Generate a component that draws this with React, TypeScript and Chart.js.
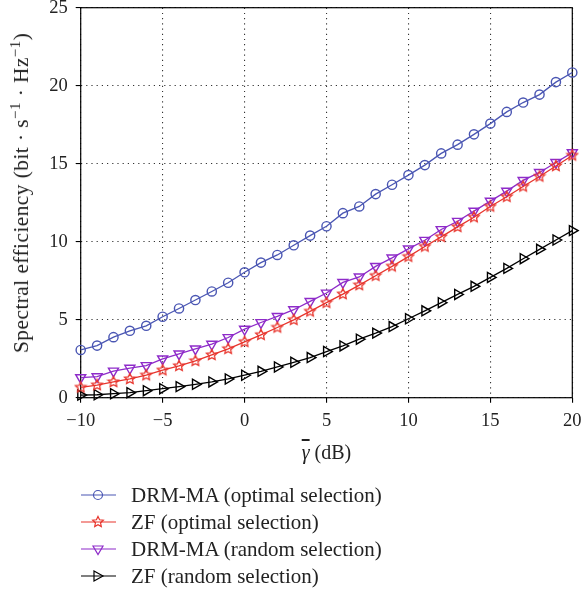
import React, { useEffect, useRef } from "react";
import { Chart, registerables } from "chart.js";

Chart.register(...registerables);

const snrDb = [-10, -9, -8, -7, -6, -5, -4, -3, -2, -1, 0, 1, 2, 3, 4, 5, 6, 7, 8, 9, 10, 11, 12, 13, 14, 15, 16, 17, 18, 19, 20];

const drmOptimal = [3.06, 3.34, 3.88, 4.29, 4.61, 5.19, 5.72, 6.26, 6.81, 7.37, 8.04, 8.66, 9.15, 9.77, 10.39, 10.99, 11.83, 12.26, 13.05, 13.65, 14.27, 14.91, 15.66, 16.22, 16.88, 17.57, 18.32, 18.92, 19.43, 20.23, 20.85];
const zfOptimal = [0.66, 0.81, 1.01, 1.2, 1.44, 1.76, 2.04, 2.36, 2.74, 3.13, 3.58, 4.03, 4.5, 4.99, 5.53, 6.09, 6.64, 7.22, 7.82, 8.42, 9.04, 9.69, 10.31, 10.95, 11.57, 12.26, 12.88, 13.54, 14.18, 14.85, 15.53];
const drmRandom = [1.29, 1.35, 1.71, 1.89, 2.06, 2.49, 2.81, 3.13, 3.43, 3.86, 4.39, 4.82, 5.21, 5.64, 6.17, 6.71, 7.39, 7.74, 8.42, 8.96, 9.54, 10.09, 10.78, 11.31, 11.96, 12.6, 13.24, 13.93, 14.44, 15.08, 15.71];
const zfRandom = [0.17, 0.19, 0.26, 0.32, 0.45, 0.58, 0.71, 0.86, 1.01, 1.2, 1.44, 1.69, 1.97, 2.27, 2.57, 2.96, 3.32, 3.75, 4.14, 4.56, 5.06, 5.57, 6.09, 6.62, 7.14, 7.71, 8.29, 8.91, 9.51, 10.11, 10.71];

const seriesNames = ["DRM-MA (optimal selection)", "ZF (optimal selection)", "DRM-MA (random selection)", "ZF (random selection)"];
const seriesColors = ["#4a56b3", "#e8342c", "#8e2bc9", "#000000"];

const xTicks = [-10, -5, 0, 5, 10, 15, 20];
const yTicks = [0, 5, 10, 15, 20, 25];

const SERIF = "'Liberation Serif', 'DejaVu Serif', serif";

function makeStar(color: string): HTMLCanvasElement {
  const c = document.createElement("canvas");
  c.width = 14;
  c.height = 14;
  const g = c.getContext("2d")!;
  g.strokeStyle = color;
  g.lineWidth = 1.3;
  g.beginPath();
  for (let i = 0; i < 10; i++) {
    const r = i % 2 === 0 ? 5.6 : 2.7;
    const a = -Math.PI / 2 + (i * Math.PI) / 5;
    const px = 7 + r * Math.cos(a);
    const py = 7 + r * Math.sin(a);
    if (i === 0) g.moveTo(px, py);
    else g.lineTo(px, py);
  }
  g.closePath();
  g.stroke();
  return c;
}

const framePlugin = {
  id: "frame",
  beforeDatasetsDraw(chart: any) {
    const { ctx, chartArea } = chart;
    ctx.save();
    ctx.strokeStyle = "#000";
    ctx.lineWidth = 1.2;
    ctx.setLineDash([]);
    ctx.strokeRect(chartArea.left, chartArea.top, chartArea.right - chartArea.left, chartArea.bottom - chartArea.top);
    ctx.restore();
  },
};

function LegendMarker({ idx }: { idx: number }) {
  const col = seriesColors[idx];
  let shape: React.ReactNode = null;
  if (idx === 0) shape = <circle cx={17} cy={8} r={4.5} fill="none" stroke={col} strokeWidth={1.2} />;
  if (idx === 1) {
    const pts: string[] = [];
    for (let i = 0; i < 10; i++) {
      const r = i % 2 === 0 ? 5.6 : 2.7;
      const a = -Math.PI / 2 + (i * Math.PI) / 5;
      pts.push(`${17 + r * Math.cos(a)},${8 + r * Math.sin(a)}`);
    }
    shape = <polygon points={pts.join(" ")} fill="none" stroke={col} strokeWidth={1.2} />;
  }
  if (idx === 2) shape = <polygon points="12,5 22,5 17,13.5" fill="none" stroke={col} strokeWidth={1.2} />;
  if (idx === 3) shape = <polygon points="13,3 22,8 13,13" fill="none" stroke={col} strokeWidth={1.2} />;
  return (
    <svg width={35} height={16} style={{ position: "absolute", left: 81, top: -8 }}>
      <line x1={0} y1={8} x2={35} y2={8} stroke={col} strokeWidth={1.2} />
      {shape}
    </svg>
  );
}

export default function App() {
  const ref = useRef<HTMLCanvasElement>(null);
  useEffect(() => {
    const star = makeStar(seriesColors[1]);
    const dataSets = [drmOptimal, zfOptimal, drmRandom, zfRandom];
    const styles: any[] = ["circle", star, "triangle", "triangle"];
    const rots = [0, 0, 180, 90];
    const radii = [4.6, 6, 5.8, 5.8];
    const chart = new Chart(ref.current!, {
      type: "line",
      data: {
        datasets: dataSets.map((vals, i) => ({
          label: seriesNames[i],
          data: snrDb.map((x, j) => ({ x, y: vals[j] })),
          borderColor: seriesColors[i],
          backgroundColor: "transparent",
          borderWidth: 1.3,
          pointStyle: styles[i],
          pointRotation: rots[i],
          pointRadius: radii[i],
          pointBorderWidth: 1.4,
          pointBorderColor: seriesColors[i],
          pointBackgroundColor: "rgba(0,0,0,0)",
          tension: 0,
          clip: false as any,
        })),
      },
      options: {
        animation: false,
        responsive: false,
        events: [],
        layout: { padding: { left: 0, right: 12.7, top: 7.7, bottom: 0 } },
        plugins: { legend: { display: false }, tooltip: { enabled: false } },
        scales: {
          x: {
            type: "linear",
            min: -10,
            max: 20,
            afterBuildTicks: (s: any) => {
              s.ticks = xTicks.map((v) => ({ value: v }));
            },
            afterFit: (s: any) => {
              s.height = 72.3;
              s.paddingLeft = 0;
              s.paddingRight = 0;
            },
            ticks: {
              color: "#222",
              font: { family: SERIF, size: 18.5 },
              padding: 7,
              maxRotation: 0,
              callback: (v: any) => (v < 0 ? "\u2212" + Math.abs(v) : String(v)),
            },
            grid: { color: "#333", lineWidth: 1.1, tickLength: 5, tickColor: "#000", tickBorderDash: [] },
            border: { display: false, dash: [1.2, 4] },
            title: { display: false },
          },
          y: {
            type: "linear",
            min: 0,
            max: 25,
            afterBuildTicks: (s: any) => {
              s.ticks = yTicks.map((v) => ({ value: v }));
            },
            afterFit: (s: any) => {
              s.width = 80.7;
              s.paddingTop = 0;
              s.paddingBottom = 0;
            },
            ticks: {
              color: "#222",
              font: { family: SERIF, size: 18.5 },
              padding: 8,
            },
            grid: { color: "#333", lineWidth: 1.1, tickLength: 5, tickColor: "#000", tickBorderDash: [] },
            border: { display: false, dash: [1.2, 4] },
            title: { display: false },
          },
        },
      },
      plugins: [framePlugin],
    });
    return () => chart.destroy();
  }, []);

  const rowsY = [495, 522, 549, 576];
  const titleStyle: React.CSSProperties = {
    position: "absolute",
    whiteSpace: "nowrap",
    fontFamily: SERIF,
    fontSize: 20,
    lineHeight: "24px",
    color: "#222",
  };
  return (
    <div style={{ position: "absolute", left: 0, top: 0, width: 585, height: 592, background: "#fff" }}>
      <canvas ref={ref} width={585} height={470} style={{ display: "block", width: 585, height: 470 }} />
      <div style={{ ...titleStyle, left: 326.5, top: 440, transform: "translateX(-50%)" }}>
        <i style={{ textDecoration: "overline" }}>{"\u03B3"}</i> (dB)
      </div>
      <div
        style={{
          ...titleStyle,
          fontSize: 21.5,
          letterSpacing: 0.4,
          left: 21,
          top: 193,
          transform: "translate(-50%, -50%) rotate(-90deg)",
        }}
      >
        Spectral efficiency (bit {"\u00B7"} s<sup style={{ fontSize: 15, lineHeight: 0 }}>{"\u22121"}</sup> {"\u00B7"} Hz
        <sup style={{ fontSize: 15, lineHeight: 0 }}>{"\u22121"}</sup>)
      </div>
      {seriesNames.map((name, i) => (
        <div key={name} style={{ position: "absolute", left: 0, top: rowsY[i], height: 0 }}>
          <LegendMarker idx={i} />
          <span
            style={{
              position: "absolute",
              left: 131,
              top: -14,
              whiteSpace: "nowrap",
              fontFamily: SERIF,
              fontSize: 21,
              lineHeight: "28px",
              color: "#222",
            }}
          >
            {name}
          </span>
        </div>
      ))}
    </div>
  );
}
